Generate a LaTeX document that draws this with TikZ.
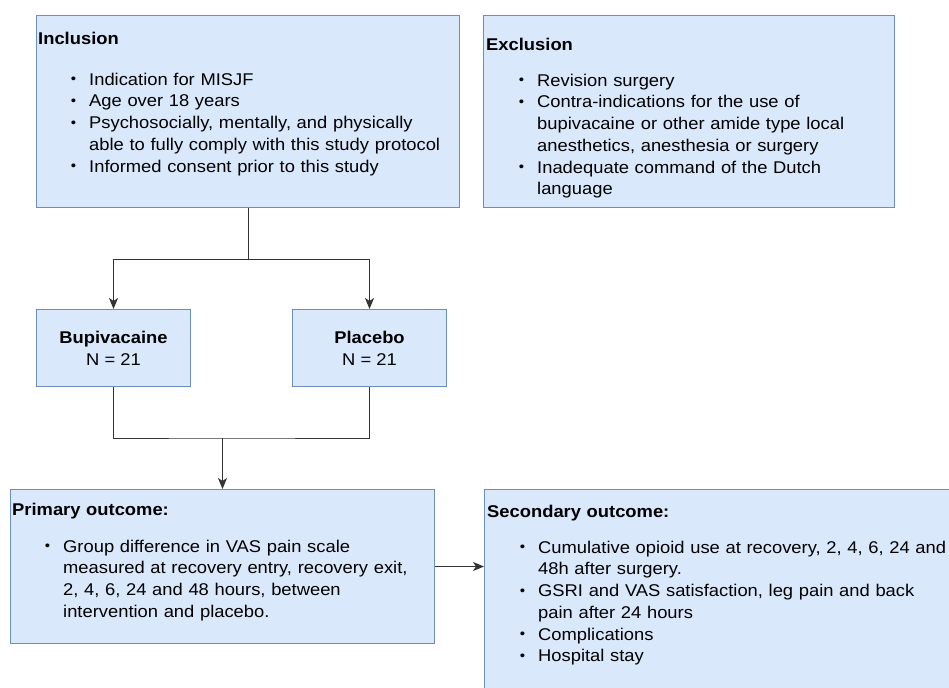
\documentclass[tikz,border=0pt]{standalone}
\usepackage{fontspec}
\setmainfont{Liberation Sans}[FakeStretch=1.08]
\usetikzlibrary{positioning,arrows.meta}
\definecolor{boxFill}{HTML}{DAE8FC}
\definecolor{boxLine}{HTML}{6C8EBF}
\definecolor{connGray}{HTML}{333333}
\newcommand{\dotmark}{\raisebox{0.08em}{\fontsize{14bp}{14bp}\selectfont\textbullet}}
\newenvironment{bullets}{\begin{list}{\dotmark}{%
  \setlength{\leftmargin}{51bp}\setlength{\labelsep}{13bp}%
  \setlength{\itemsep}{0pt}\setlength{\parsep}{0pt}%
  \setlength{\topsep}{0pt}\setlength{\partopsep}{0pt}}}{\end{list}}

\begin{document}
\begin{tikzpicture}[x=1bp,y=-1bp,
    every node/.style={font=\fontsize{17bp}{21.7bp}\selectfont},
    box/.style={draw=boxLine,fill=boxFill,line width=1bp,inner sep=0pt,anchor=north west},
    txt/.style={inner sep=0pt,anchor=north west,align=left,text width=#1},
    conn/.style={draw=connGray,line width=1bp},
    arr/.style={conn,-{Stealth[length=11bp,width=9bp,inset=3bp]}}]

    \useasboundingbox (0,0) rectangle (949,688);

    % Boxes
    \node[box,minimum width=423bp,minimum height=192bp] (inc) at (36,15) {};
    \node[box,minimum width=411bp,minimum height=192bp] (exc) at (483,15) {};
    \node[box,minimum width=154bp,minimum height=77bp,align=center] (bup) at (36,309)
      {\textbf{Bupivacaine}\\N = 21};
    \node[box,minimum width=154bp,minimum height=77bp,align=center] (pla) at (292,309)
      {\textbf{Placebo}\\N = 21};
    \node[box,minimum width=424bp,minimum height=154bp] (prim) at (10,489) {};
    \node[box,minimum width=480bp,minimum height=220bp] (sec) at (484,489) {};

    % Box texts
    \node[txt=440bp,below right=17bp and 2bp of inc.north west] (incText) {%
      \textbf{Inclusion}\par\vspace{19bp}
      \begin{bullets}
        \item Indication for MISJF
        \item Age over 18 years
        \item Psychosocially, mentally, and physically\newline
              able to fully comply with this study protocol
        \item Informed consent prior to this study
      \end{bullets}};
    \node[txt=440bp,below right=23bp and 3bp of exc.north west] (excText) {%
      \textbf{Exclusion}\par\vspace{14bp}
      \begin{bullets}
        \item Revision surgery
        \item Contra-indications for the use of\newline
              bupivacaine or other amide type local\newline
              anesthetics, anesthesia or surgery
        \item Inadequate command of the Dutch\newline
              language
      \end{bullets}};
    \node[txt=440bp,below right=14bp and 2bp of prim.north west] (primText) {%
      \textbf{Primary outcome:}\par\vspace{15bp}
      \begin{bullets}
        \item Group difference in VAS pain scale\newline
              measured at recovery entry, recovery exit,\newline
              2, 4, 6, 24 and 48 hours, between\newline
              intervention and placebo.
      \end{bullets}};
    \node[txt=480bp,below right=16bp and 3bp of sec.north west] (secText) {%
      \textbf{Secondary outcome:}\par\vspace{14bp}
      \begin{bullets}
        \item Cumulative opioid use at recovery, 2, 4, 6, 24 and\newline
              48h after surgery.
        \item GSRI and VAS satisfaction, leg pain and back\newline
              pain after 24 hours
        \item Complications
        \item Hospital stay
      \end{bullets}};

    % Connectors
    \coordinate[below=51bp of inc.south] (fork);
    \draw[conn] (inc.south) -- (fork);
    \draw[arr] (fork) -| (bup.north);
    \draw[arr] (fork) -| (pla.north);
    \coordinate[above=51bp of prim.north] (merge);
    \draw[conn] (bup.south) |- (merge) -| (pla.south);
    \draw[arr] (merge) -- (prim.north);
    \draw[arr] (prim.east) -- (prim.east -| sec.west);
\end{tikzpicture}
\end{document}
